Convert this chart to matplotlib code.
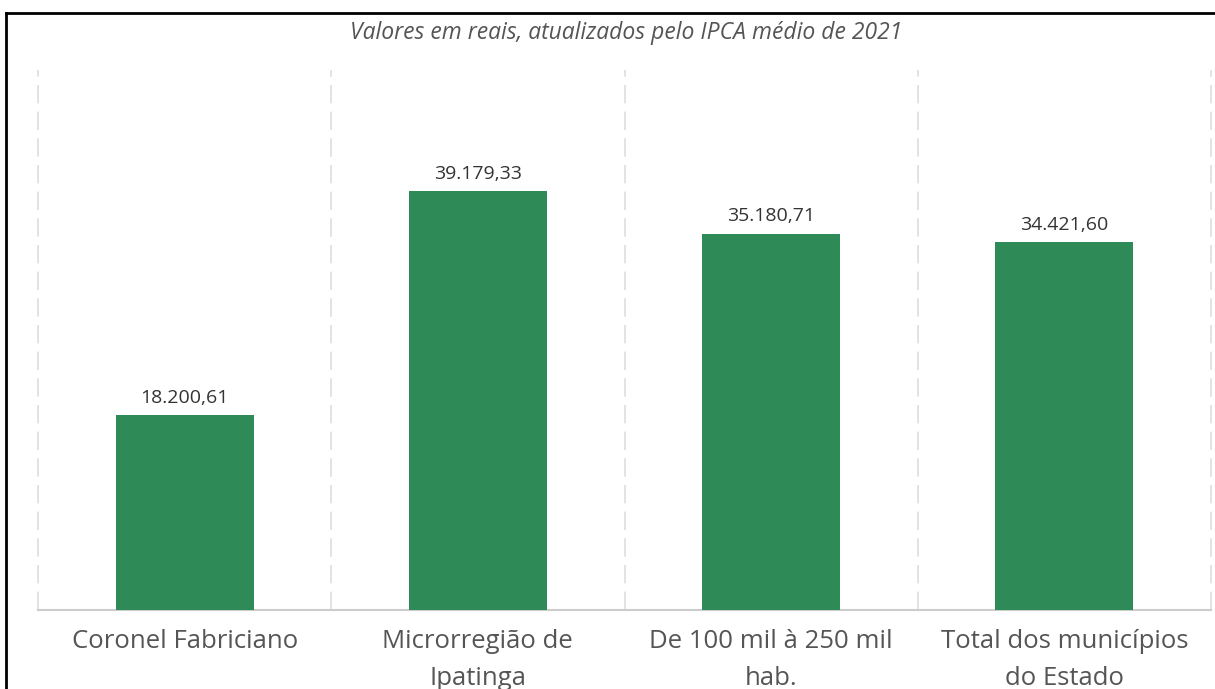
import numpy as np
import matplotlib
matplotlib.use("Agg")
import matplotlib.pyplot as plt
from matplotlib.lines import Line2D

plt.rcParams['font.family'] = ['Open Sans', 'DejaVu Sans']

categories = ["Coronel Fabriciano", "Microrregião de\nIpatinga", "De 100 mil à 250 mil\nhab.", "Total dos municípios\ndo Estado"]
values = [18200.61, 39179.33, 35180.71, 34421.60]
title = "Valores em reais, atualizados pelo IPCA médio de 2021"


def br(num):
    s = f"{num:,.2f}"
    return s.replace(",", "X").replace(".", ",").replace("X", ".")


fig = plt.figure(figsize=(12.15, 6.89), dpi=100)
ax = fig.add_axes([38 / 1215, 1 - 610 / 689, (1211 - 38) / 1215, 540 / 689])

x = np.arange(len(categories))
bars = ax.bar(x, values, width=0.47, color="#2e8b57", zorder=3)

# value labels above bars
for b, v in zip(bars, values):
    ax.annotate(br(v), (b.get_x() + b.get_width() / 2, v), xytext=(0, 6),
                textcoords="offset points", ha="center", va="bottom",
                fontsize=14, color="#333333")

# dashed separators between categories
for gx in np.arange(-0.5, len(categories), 1.0):
    ax.axvline(gx, color="#dedede", lw=1.2, ls=(0, (11, 5)), zorder=1, clip_on=False)

ax.set_xlim(-0.5, len(categories) - 0.5)
ax.set_ylim(0, 50500)
ax.set_yticks([])
ax.set_xticks(x)
ax.set_xticklabels(categories, fontsize=18.5, color="#555555", linespacing=1.6)
ax.tick_params(axis="x", length=0, pad=14)
for side in ["top", "right", "left"]:
    ax.spines[side].set_visible(False)
ax.spines["bottom"].set_color("#cccccc")
ax.spines["bottom"].set_linewidth(1.5)

fig.text(626 / 1215, 1 - 33 / 689, title, ha="center", va="center",
         fontsize=16.5, style="italic", color="#555555")

# outer frame lines (left and top)
fig.add_artist(Line2D([6 / 1215, 6 / 1215], [0, 1 - 13 / 689], color="black", lw=2, transform=fig.transFigure))
fig.add_artist(Line2D([6 / 1215, 1], [1 - 13 / 689, 1 - 13 / 689], color="black", lw=2, transform=fig.transFigure))

fig.savefig("out.png", dpi=100)
